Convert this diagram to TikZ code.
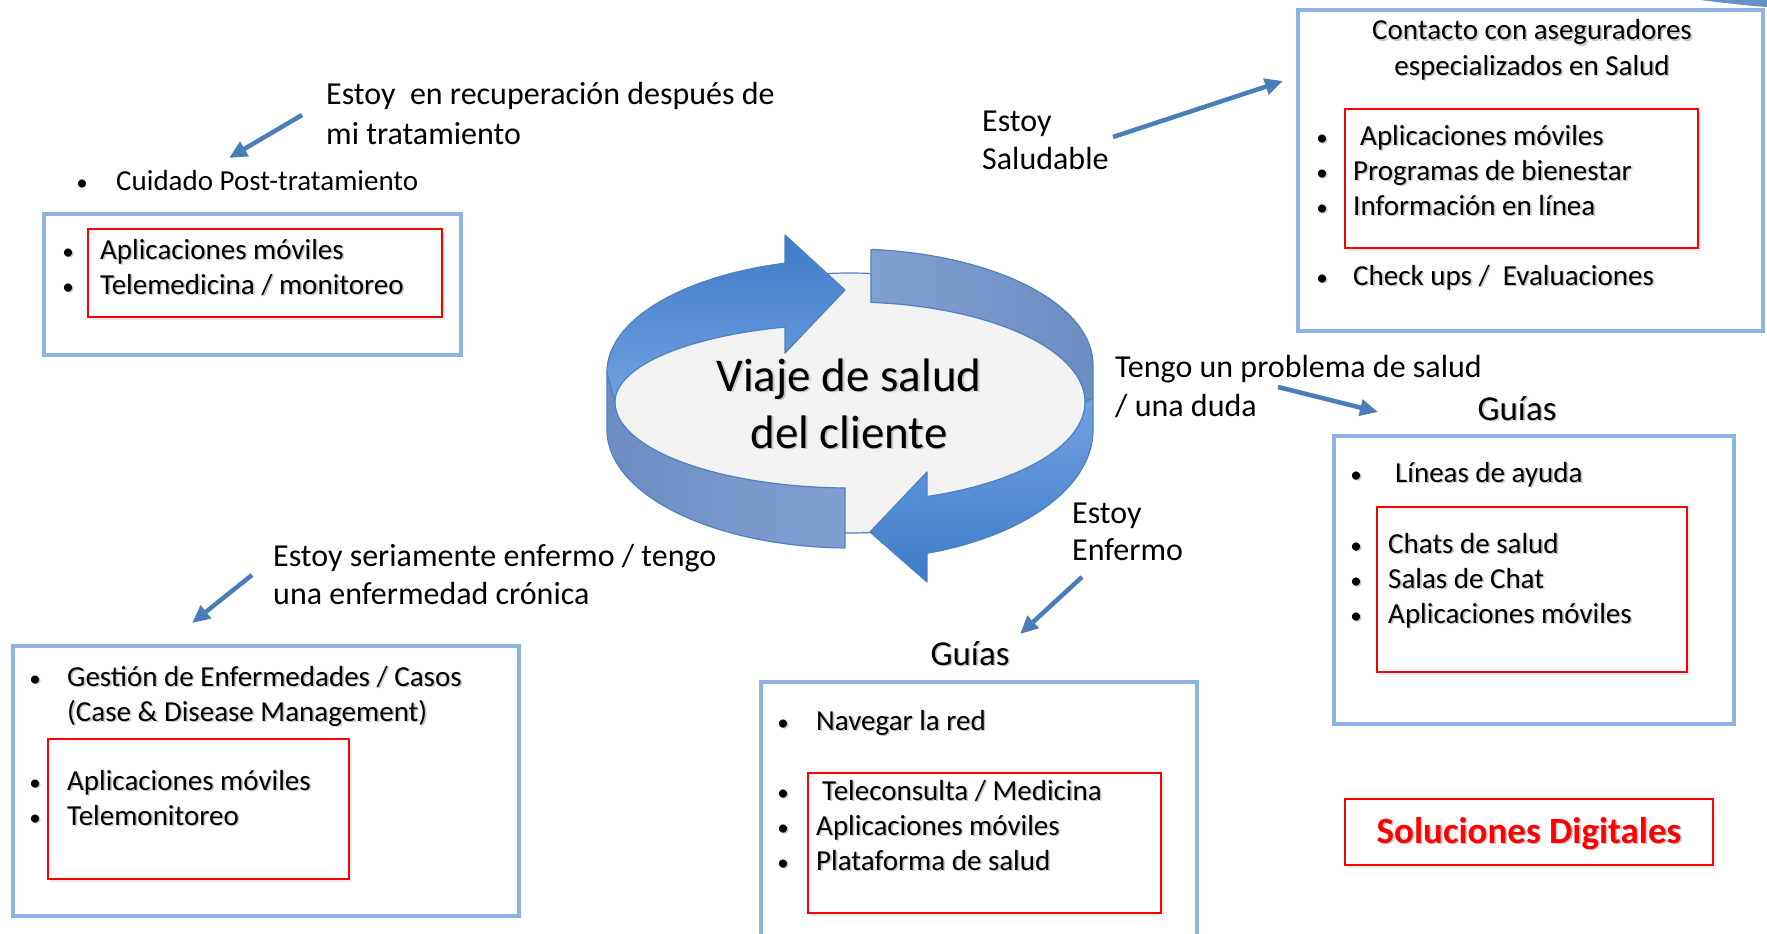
\documentclass[tikz,border=0pt]{standalone}
\usepackage{fontspec}
\setmainfont{Carlito}
\usetikzlibrary{arrows.meta,shadows}
\definecolor{boxblue}{RGB}{141,179,226}
\definecolor{arrowblue}{RGB}{74,126,187}
\definecolor{ringline}{RGB}{79,129,189}
\definecolor{brightA}{RGB}{62,124,200}
\definecolor{brightB}{RGB}{112,160,226}
\definecolor{grayA}{RGB}{128,160,210}
\definecolor{grayB}{RGB}{108,141,194}
\definecolor{floorgray}{RGB}{242,242,242}
\newcommand{\shd}[1]{\makebox[0pt][l]{\hspace{1.6pt}\raisebox{-1.6pt}{\textcolor{black!22}{#1}}}#1}
\begin{document}
\begin{tikzpicture}[x=1pt,y=-1pt,
  body/.style={anchor=base west, inner sep=0pt, font=\fontsize{29}{35}\selectfont},
  lbl/.style={anchor=base west, inner sep=0pt, font=\fontsize{32}{38}\selectfont},
  bul/.style={anchor=base, inner sep=0pt, font=\fontsize{23}{35}\selectfont},
  head/.style={anchor=base, inner sep=0pt, font=\fontsize{35}{42}\selectfont},
  ctitle/.style={anchor=base, inner sep=0pt, font=\fontsize{29}{35}\selectfont},
  bluebox/.style={draw=boxblue, line width=4pt},
  redbox/.style={draw=red, line width=1.6pt, fill=white, drop shadow={opacity=0.15, shadow xshift=2.5pt, shadow yshift=-2.5pt}},
  conn/.style={draw=arrowblue, line width=4.5pt, -{Triangle[length=18pt,width=16pt]}},
  band/.style={draw=ringline, line width=1.2pt, line join=round},
]
\useasboundingbox (0,0) rectangle (1767,934);
\clip (0,0) rectangle (1767,934);
\fill[white] (0,0) rectangle (1767,934);

% top-right corner sliver
\fill[arrowblue!85] (1700,0) .. controls (1725,3) and (1750,6) .. (1767,7) -- (1767,0) -- cycle;

% ---------- central ring ----------
\draw[draw=ringline, line width=1.2pt, fill=floorgray] (850,403) ellipse [x radius=236, y radius=130];
% gray top-right band
\path[band, left color=grayA, right color=grayB]
  plot[domain=85.04:0, samples=50, smooth] ({850+243*cos(\x)},{365-116*sin(\x)})
  -- (1093,398) -- (1085,402)
  -- plot[domain=0:84.87, samples=50, smooth] ({850+235*cos(\x)},{402-100*sin(\x)}) -- cycle;
% gray bottom-left band
\path[band, left color=grayB, right color=grayA]
  (607,372) -- (607,430)
  -- plot[domain=180:91.18, samples=50, smooth] ({850+243*cos(\x)},{430+118*sin(\x)})
  -- (845,488)
  -- plot[domain=91.22:180, samples=50, smooth] ({850+235*cos(\x)},{402+86*sin(\x)}) -- cycle;
% bright top-left arrow
\path[band, top color=brightA, bottom color=brightB]
  plot[domain=180:105.52, samples=50, smooth] ({850+243*cos(\x)},{372-113*sin(\x)})
  -- (785,235) -- (845,290) -- (785,353)
  -- plot[domain=106.06:180, samples=50, smooth] ({850+235*cos(\x)},{402-78*sin(\x)}) -- cycle;
% bright bottom-right arrow
\path[band, top color=brightB, bottom color=brightA]
  (1093,398) -- (1093,430)
  -- plot[domain=0:71.52, samples=50, smooth] ({850+243*cos(\x)},{430+130*sin(\x)})
  -- (927,582) -- (870,532) -- (927,472)
  -- plot[domain=70.87:0, samples=50, smooth] ({850+235*cos(\x)},{402+100*sin(\x)}) -- cycle;
\node[anchor=base, inner sep=0pt, font=\fontsize{47}{57}\selectfont] (viaje1) at (849,391) {\shd{Viaje de salud}};
\node[anchor=base, inner sep=0pt, font=\fontsize{47}{57}\selectfont] (viaje2) at (849,448) {\shd{del cliente}};

% ---------- top-left ----------
\node[lbl] (rec1) at (326,104) {Estoy~ en recuperación después de};
\node[lbl] (rec2) at (326,144) {mi tratamiento};
\node[bul] (bc) at (82,190) {•};
\node[body] (cuid) at (116,190) {Cuidado Post-tratamiento};
\draw[bluebox] (44,214) rectangle (461,355);
\draw[redbox] (88,229) rectangle (442,317);
\node[bul] (tlb1) at (68,259) {\shd{•}};
\node[body] (tl1) at (100,259) {\shd{Aplicaciones móviles}};
\node[bul] (tlb2) at (68,294) {\shd{•}};
\node[body] (tl2) at (100,294) {\shd{Telemedicina / monitoreo}};
\coordinate (a1s) at (302,115); \coordinate (a1e) at (229,158);
\draw[conn] (a1s) -- (a1e);

% ---------- top-right ----------
\node[lbl] (sal1) at (982,131) {Estoy};
\node[lbl] (sal2) at (982,169) {Saludable};
\coordinate (a2s) at (1113,137); \coordinate (a2e) at (1283,81);
\draw[conn] (a2s) -- (a2e);
\draw[bluebox] (1298,10) rectangle (1763,331);
\node[ctitle] (ct1) at (1532,40) {\shd{Contacto con aseguradores}};
\node[ctitle] (ct2) at (1532,75) {\shd{especializados en Salud}};
\draw[redbox] (1345,109) rectangle (1698,248);
\node[bul] (trb1) at (1322,145) {\shd{•}};
\node[body] (tr1) at (1360,145) {\shd{Aplicaciones móviles}};
\node[bul] (trb2) at (1322,180) {\shd{•}};
\node[body] (tr2) at (1353,180) {\shd{Programas de bienestar}};
\node[bul] (trb3) at (1322,215) {\shd{•}};
\node[body] (tr3) at (1353,215) {\shd{Información en línea}};
\node[bul] (trb4) at (1322,285) {\shd{•}};
\node[body] (tr4) at (1353,285) {\shd{Check ups /~ Evaluaciones}};

% ---------- middle-right ----------
\node[lbl] (duda1) at (1115,377) {Tengo un problema de salud};
\node[lbl] (duda2) at (1115,416) {/ una duda};
\coordinate (a3s) at (1278,387); \coordinate (a3e) at (1378,412);
\draw[conn] (a3s) -- (a3e);
\node[head] (guias1) at (1517,420) {\shd{Guías}};
\draw[bluebox] (1334,436) rectangle (1734,724);
\draw[redbox] (1377,507) rectangle (1687,672);
\node[bul] (mrb1) at (1356,482) {\shd{•}};
\node[body] (mr1) at (1395,482) {\shd{Líneas de ayuda}};
\node[bul] (mrb2) at (1356,553) {\shd{•}};
\node[body] (mr2) at (1388,553) {\shd{Chats de salud}};
\node[bul] (mrb3) at (1356,588) {\shd{•}};
\node[body] (mr3) at (1388,588) {\shd{Salas de Chat}};
\node[bul] (mrb4) at (1356,623) {\shd{•}};
\node[body] (mr4) at (1388,623) {\shd{Aplicaciones móviles}};

% ---------- bottom-middle ----------
\node[lbl] (enf1) at (1072,523) {Estoy};
\node[lbl] (enf2) at (1072,560) {Enfermo};
\coordinate (a4s) at (1082,577); \coordinate (a4e) at (1020,634);
\draw[conn] (a4s) -- (a4e);
\node[head] (guias2) at (970,665) {\shd{Guías}};
\draw[bluebox] (761,682) rectangle (1197,950);
\draw[redbox] (808,773) rectangle (1161,913);
\node[bul] (bmb1) at (783,730) {\shd{•}};
\node[body] (bm1) at (816,730) {\shd{Navegar la red}};
\node[bul] (bmb2) at (783,800) {\shd{•}};
\node[body] (bm2) at (822,800) {\shd{Teleconsulta / Medicina}};
\node[bul] (bmb3) at (783,835) {\shd{•}};
\node[body] (bm3) at (816,835) {\shd{Aplicaciones móviles}};
\node[bul] (bmb4) at (783,870) {\shd{•}};
\node[body] (bm4) at (816,870) {\shd{Plataforma de salud}};

% ---------- bottom-left ----------
\node[lbl] (cron1) at (273,566) {Estoy seriamente enfermo / tengo};
\node[lbl] (cron2) at (273,604) {una enfermedad crónica};
\coordinate (a5s) at (252,575); \coordinate (a5e) at (192,623);
\draw[conn] (a5s) -- (a5e);
\draw[bluebox] (13,646) rectangle (519,916);
\draw[redbox] (48,739) rectangle (349,879);
\node[bul] (blb1) at (35,686) {\shd{•}};
\node[body] (bl1) at (67,686) {\shd{Gestión de Enfermedades / Casos}};
\node[body] (bl2) at (67,721) {\shd{(Case \& Disease Management)}};
\node[bul] (blb3) at (35,790) {\shd{•}};
\node[body] (bl3) at (67,790) {\shd{Aplicaciones móviles}};
\node[bul] (blb4) at (35,825) {\shd{•}};
\node[body] (bl4) at (67,825) {\shd{Telemonitoreo}};

% ---------- Soluciones Digitales ----------
\draw[redbox] (1345,799) rectangle (1713,865);
\node[anchor=base, inner sep=0pt, text=red, font=\fontsize{37}{44}\selectfont\bfseries] (sd) at (1529,843) {\shd{Soluciones Digitales}};
\end{tikzpicture}
\end{document}
